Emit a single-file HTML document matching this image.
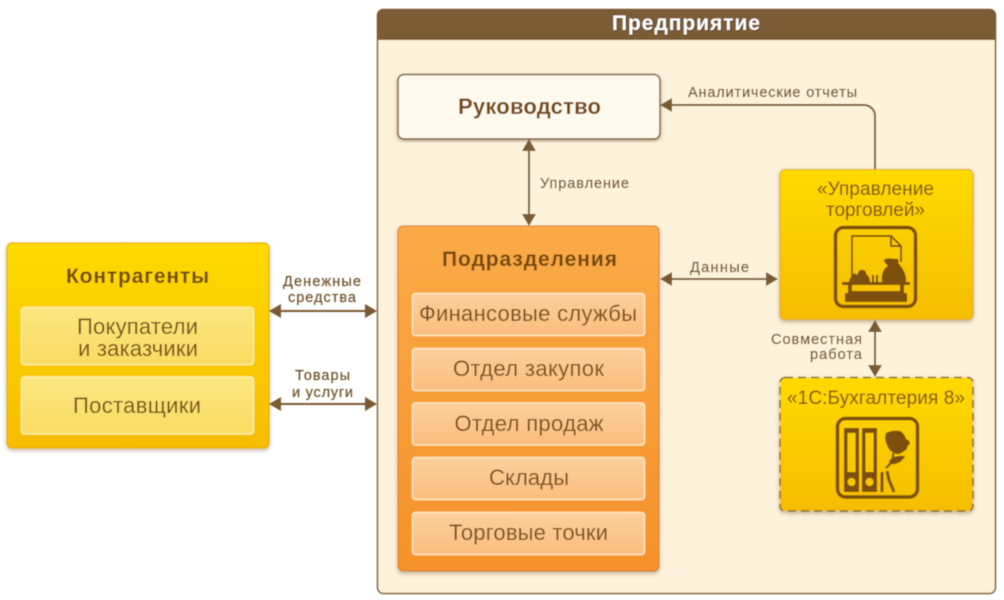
<!DOCTYPE html>
<html lang="ru">
<head>
<meta charset="utf-8">
<style>
html,body{margin:0;padding:0;background:#fff;width:1004px;height:600px;overflow:hidden}
svg{display:block}
text{font-family:"Liberation Sans",sans-serif;text-anchor:middle}
.t{font-size:22px;fill:#7a4f18}
.h{font-size:21px;font-weight:bold;fill:#74480f}
.l{font-size:14.5px;fill:#70532f;stroke:#70532f;stroke-width:.2}
.lr{text-anchor:end}
.ic{fill:none;stroke:#7d4f08;stroke-width:3.5}
.if{fill:#7d4f08}
</style>
</head>
<body>
<svg width="1004" height="600" viewBox="0 0 1004 600" xmlns="http://www.w3.org/2000/svg">
<defs>
<linearGradient id="y" x1="0" y1="0" x2="0" y2="1"><stop offset="0" stop-color="#ffda00"/><stop offset="1" stop-color="#f6bd06"/></linearGradient>
<linearGradient id="o" x1="0" y1="0" x2="0" y2="1"><stop offset="0" stop-color="#fbab48"/><stop offset="1" stop-color="#f5912a"/></linearGradient>
<linearGradient id="iy" x1="0" y1="0" x2="0" y2="1"><stop offset="0" stop-color="#fbe680"/><stop offset="1" stop-color="#f9dc62"/></linearGradient>
<linearGradient id="io" x1="0" y1="0" x2="0" y2="1"><stop offset="0" stop-color="#fcd09c"/><stop offset="1" stop-color="#fbbd7e"/></linearGradient>
<filter id="s" x="-5%" y="-5%" width="110%" height="110%"><feDropShadow dx="0" dy="2" stdDeviation="2" flood-color="#6b4a20" flood-opacity=".4"/></filter>
<filter id="b" x="-5%" y="-5%" width="110%" height="110%"><feGaussianBlur stdDeviation="0.5"/></filter>
</defs>
<g filter="url(#b)">
<!-- Enterprise panel -->
<rect x="377.5" y="9.5" width="618" height="584" rx="6" fill="#fdf3dc" stroke="#7f5f38" stroke-width="1.5"/>
<path d="M377 40V15a6 6 0 0 1 6-6H990a6 6 0 0 1 6 6V40Z" fill="#7b5b35"/>
<text x="686" y="30" font-size="21" font-weight="bold" fill="#3d2a12" opacity=".6" transform="translate(1 1)" textLength="148">Предприятие</text>
<text x="686" y="30" font-size="21" font-weight="bold" fill="#fff" textLength="148">Предприятие</text>

<!-- Руководство -->
<rect x="398" y="74.5" width="262" height="64.5" rx="6" fill="#fffaf0" stroke="#7b5b35" stroke-width="1.5" filter="url(#s)"/>
<text x="529.5" y="114" class="h" style="font-size:22px" textLength="143">Руководство</text>

<!-- Подразделения -->
<rect x="398" y="226" width="261" height="345" rx="5" fill="url(#o)" stroke="#d97f20" filter="url(#s)"/>
<text x="529.5" y="266" class="h" textLength="175">Подразделения</text>
<g fill="url(#io)" stroke="#fde8c4" stroke-width="1.5">
<rect x="412.5" y="293.5" width="232" height="42" rx="3"/>
<rect x="412.5" y="348.5" width="232" height="42" rx="3"/>
<rect x="412.5" y="403" width="232" height="42" rx="3"/>
<rect x="412.5" y="457.5" width="232" height="42" rx="3"/>
<rect x="412.5" y="512.5" width="232" height="42" rx="3"/>
</g>
<text x="528" y="321" class="t" textLength="218">Финансовые службы</text>
<text x="528.5" y="376" class="t" textLength="151">Отдел закупок</text>
<text x="529" y="431" class="t" textLength="149">Отдел продаж</text>
<text x="529" y="485" class="t" textLength="80">Склады</text>
<text x="528.5" y="540" class="t" textLength="159">Торговые точки</text>

<!-- Контрагенты -->
<rect x="7" y="243" width="262" height="205" rx="5" fill="url(#y)" stroke="#e2aa08" filter="url(#s)"/>
<text x="137.5" y="283" class="h" textLength="143">Контрагенты</text>
<g fill="url(#iy)" stroke="#fdf0a8" stroke-width="1.5">
<rect x="21.500" y="307.5" width="232" height="57" rx="3"/>
<rect x="21.500" y="377" width="232" height="57" rx="3"/>
</g>
<text x="137.5" y="334" class="t" textLength="121">Покупатели</text>
<text x="138" y="356" class="t" textLength="120">и заказчики</text>
<text x="137" y="413" class="t" textLength="128">Поставщики</text>

<!-- Управление торговлей -->
<rect x="780" y="169.5" width="193" height="150" rx="5" fill="url(#y)" stroke="#e2aa08" filter="url(#s)"/>
<text x="875.5" y="195" class="t" style="font-size:19px" textLength="117">«Управление</text>
<text x="875.5" y="216" class="t" style="font-size:19px" textLength="99">торговлей»</text>
<rect x="835.5" y="227.5" width="80" height="79" rx="8" class="ic"/>
<path d="M852 283V236H891L901 246V262M891 236V246H901" fill="none" stroke="#7d4f08" stroke-width="1.8"/>
<path class="if" d="M882 283c-1-9 1-14 6-17-2-2-5-5-4-6 2-2 7-2 10-1 4-1 6 1 4 4 3 3 9 10 8 20z"/>
<path class="if" d="M849 283c0-4 2-6 3-7l2-3 3 2c1-2 2-5 3-5l4 0c2 1 2 4 3 5 2 1 3 4 3 8z"/>
<rect x="872" y="275" width="2" height="8" class="if"/><rect x="876" y="275" width="2" height="8" class="if"/>
<path class="if" d="M842 282H910V285H904V293H907V302H845V293H848V285H842ZM852 285V291H900V285Z"/>

<!-- 1С:Бухгалтерия -->
<rect x="780" y="377.5" width="193" height="133.5" rx="5" fill="url(#y)" stroke="#8a6a2c" stroke-width="1.5" stroke-dasharray="8 5" filter="url(#s)"/>
<text x="876" y="404" class="t" style="font-size:19px" textLength="178">«1С:Бухгалтерия 8»</text>
<rect x="837.5" y="418.500" width="80" height="78.500" rx="8" class="ic"/>
<path class="if" fill-rule="evenodd" d="M844 428H859V492H844ZM847.5 433V472H855.5V433ZM851.5 478a4 4 0 1 0 .01 0Z"/>
<path class="if" fill-rule="evenodd" d="M862 428H877V492H862ZM865.5 433V472H873.5V433ZM869.5 478a4 4 0 1 0 .01 0Z"/>
<path class="if" d="M886 433c4-2 9-3 14-2 4 2 5 5 6 8 3 1 4 3 4 5-2 1-3 3-3 5-3 2-6 5-9 5-3 0-7-2-9-5-3-5-5-11-3-16z"/>
<path d="M893 453c1 5-2 11-7 15" fill="none" stroke="#7d4f08" stroke-width="2.200"/>
<path class="if" d="M889 461c3-4 9-6 16-5-2 5-8 9-15 8z"/>
<path d="M882 472v20M887 471l2 9 5 12" fill="none" stroke="#7d4f08" stroke-width="3"/>

<!-- connectors -->
<g stroke="#7a5a30" stroke-width="2" fill="none">
<path d="M279 311H367M279 404H367"/>
<path d="M529 150V215"/>
<path d="M670 279H768"/>
<path d="M875 331V366"/>
<path d="M875 169V116a11 11 0 0 0-11-11H672"/>
</g>
<g fill="#7a5a30">
<path d="M269 311l12-7v14Z"/><path d="M377 311l-12-7v14Z"/>
<path d="M269 404l12-7v14Z"/><path d="M377 404l-12-7v14Z"/>
<path d="M529 139l-7 12h14Z"/><path d="M529 226l-7-12h14Z"/>
<path d="M660 279l12-7v14Z"/><path d="M778 279l-12-7v14Z"/>
<path d="M875 320l-7 12h14Z"/><path d="M875 377l-7-12h14Z"/>
<path d="M660 105l12-7v14Z"/>
</g>

<!-- labels -->
<text x="322" y="286" class="l" textLength="78">Денежные</text>
<text x="322" y="302" class="l" textLength="68">средства</text>
<text x="322.5" y="380" class="l" textLength="55">Товары</text>
<text x="322.5" y="397" class="l" textLength="61">и услуги</text>
<text x="584.5" y="188" class="l" textLength="89">Управление</text>
<text x="772.5" y="97" class="l" textLength="169">Аналитические отчеты</text>
<text x="719.5" y="272" class="l" textLength="59">Данные</text>
<text x="862" y="344" class="l lr" textLength="91">Совместная</text>
<text x="862" y="359" class="l lr" textLength="52">работа</text>
</g>
</svg>
</body>
</html>
